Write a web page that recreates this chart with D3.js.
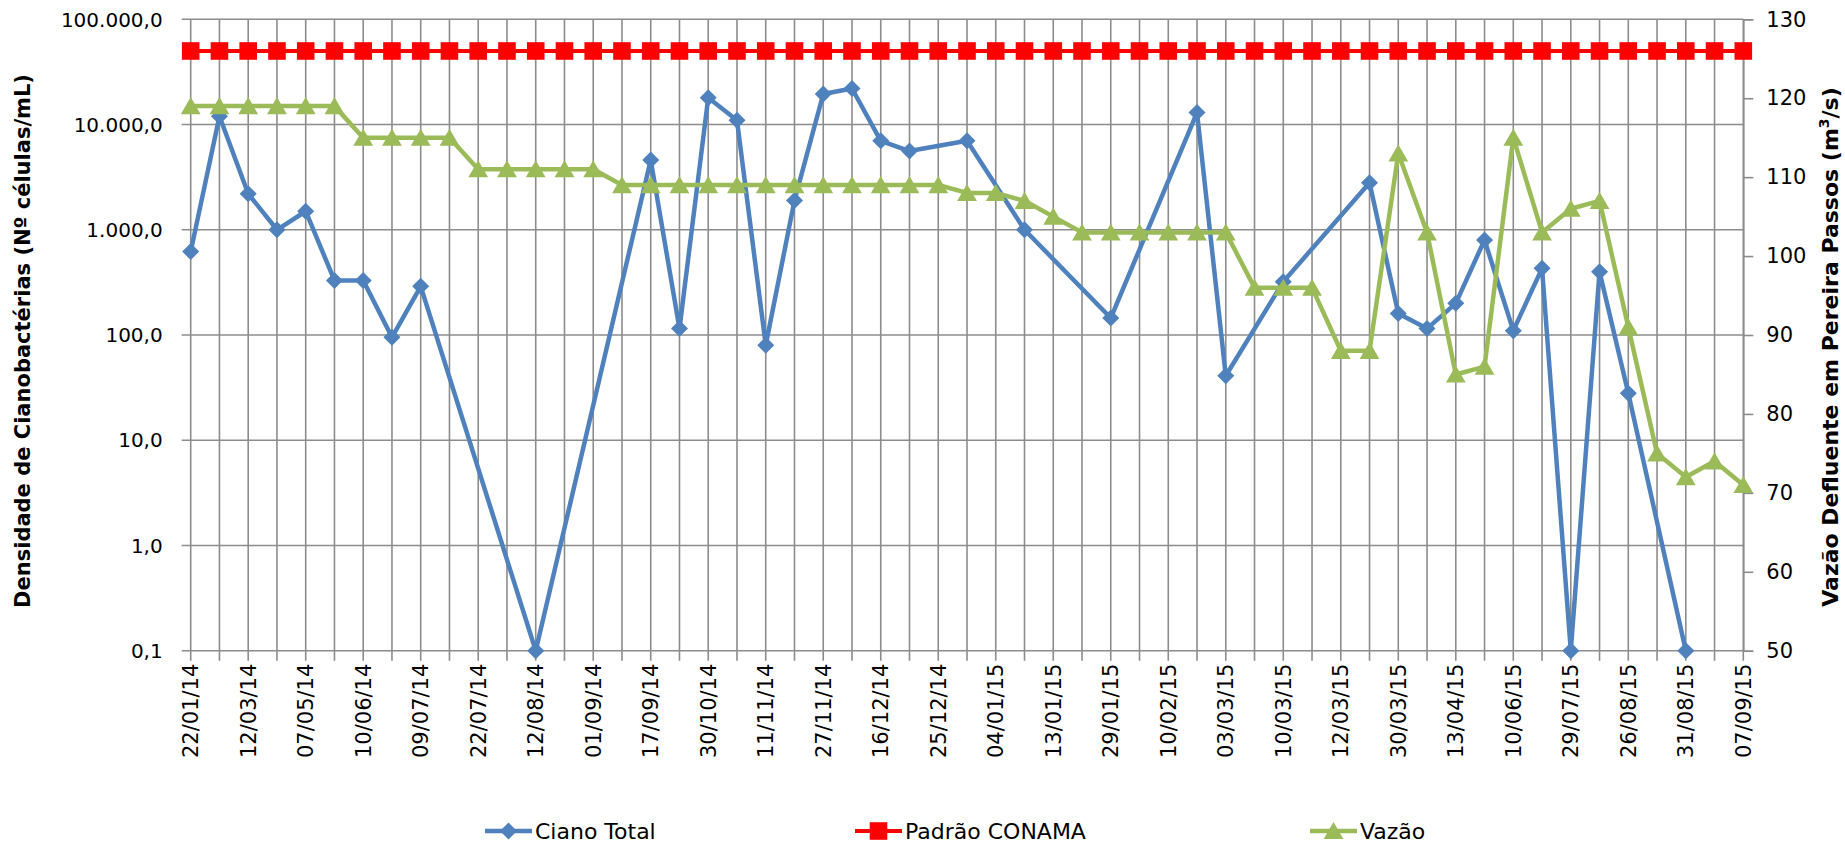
<!DOCTYPE html>
<html>
<head>
<meta charset="utf-8">
<script src="https://cdn.jsdelivr.net/npm/d3@7"></script>
<style>
  body { margin: 0; background: #fff; }
  text { font-family: "DejaVu Sans", sans-serif; fill: #000; }
</style>
</head>
<body>
<div id="chart"></div>
<script>
// Categorias (datas de coleta) - só as pares aparecem no eixo
const categories = [
  "22/01/14", "", "12/03/14", "", "07/05/14", "", "10/06/14", "", "09/07/14", "",
  "22/07/14", "", "12/08/14", "", "01/09/14", "", "17/09/14", "", "30/10/14", "",
  "11/11/14", "", "27/11/14", "", "16/12/14", "", "25/12/14", "", "04/01/15", "",
  "13/01/15", "", "29/01/15", "", "10/02/15", "", "03/03/15", "", "10/03/15", "",
  "12/03/15", "", "30/03/15", "", "13/04/15", "", "10/06/15", "", "29/07/15", "",
  "26/08/15", "", "31/08/15", "", "07/09/15"
];

// Ciano Total (células/mL) - null = sem amostra
const cianoTotal = [
  620, 12000, 2200, 1000, 1500, 330, 330, 95, 290, null,
  null, null, 0.1, null, null, null, 4600, 115, 18000, 11000,
  80, 1900, 19500, 22000, 7000, 5600, null, 7000, null, 1000,
  null, null, 145, null, null, 13000, 41, null, 320, null,
  null, 2800, 160, 115, 200, 800, 110, 430, 0.1, 400,
  28, null, 0.1, null, null
];

// Padrão CONAMA (células/mL)
const padraoConama = categories.map(() => 50000);

// Vazão defluente (m3/s)
const vazao = [
  119, 119, 119, 119, 119, 119, 115, 115, 115, 115,
  111, 111, 111, 111, 111, 109, 109, 109, 109, 109,
  109, 109, 109, 109, 109, 109, 109, 108, 108, 107,
  105, 103, 103, 103, 103, 103, 103, 96, 96, 96,
  88, 88, 113, 103, 85, 86, 115, 103, 106, 107,
  91, 75, 72, 74, 71
];

const leftTicks = [0.1, 1, 10, 100, 1000, 10000, 100000];
const rightTicks = [50, 60, 70, 80, 90, 100, 110, 120, 130];

const width = 1845;
const height = 843;
const plot = { left: 190.7, right: 1743.3, top: 19.3, bottom: 650.7 };

const svg = d3.select("#chart").append("svg")
  .attr("width", width)
  .attr("height", height);

const x = d3.scalePoint()
  .domain(d3.range(categories.length))
  .range([plot.left, plot.right]);

const yLeft = d3.scaleLog()
  .domain([0.1, 100000])
  .range([plot.bottom, plot.top]);

const yRight = d3.scaleLinear()
  .domain([50, 130])
  .range([plot.bottom, plot.top]);

const gridColor = "#8c8c8c";
const fmtLeft = (v) => {
  const s = d3.format(",.1f")(v);
  return s.replace(/,/g, "#").replace(".", ",").replace(/#/g, ".");
};

// Grade vertical (uma por categoria) + marcas abaixo do eixo
const grid = svg.append("g");
grid.selectAll("line.v")
  .data(d3.range(categories.length))
  .join("line")
  .attr("class", "v")
  .attr("x1", (d) => x(d))
  .attr("x2", (d) => x(d))
  .attr("y1", plot.top)
  .attr("y2", plot.bottom + 10)
  .attr("stroke", gridColor)
  .attr("stroke-width", 1.6);

// Grade horizontal (eixo logarítmico)
grid.selectAll("line.h")
  .data(leftTicks)
  .join("line")
  .attr("class", "h")
  .attr("x1", plot.left - 9)
  .attr("x2", plot.right)
  .attr("y1", (d) => yLeft(d))
  .attr("y2", (d) => yLeft(d))
  .attr("stroke", gridColor)
  .attr("stroke-width", 1.6);

// Eixo direito
const axisRight = d3.axisRight(yRight)
  .tickValues(rightTicks)
  .tickSize(10)
  .tickPadding(13)
  .tickFormat(d3.format("d"));

const gR = svg.append("g")
  .attr("transform", `translate(${plot.right},0)`)
  .call(axisRight);
gR.select(".domain").attr("stroke", gridColor).attr("stroke-width", 1.6);
gR.selectAll(".tick line").attr("stroke", gridColor).attr("stroke-width", 1.6);
gR.selectAll(".tick text")
  .attr("font-size", 21)
  .attr("font-family", "DejaVu Sans")
  .attr("fill", "#000");

// Rótulos eixo esquerdo
svg.append("g")
  .selectAll("text")
  .data(leftTicks)
  .join("text")
  .attr("x", plot.left - 28)
  .attr("y", (d) => yLeft(d))
  .attr("dy", "0.36em")
  .attr("text-anchor", "end")
  .attr("font-size", 20)
  .text(fmtLeft);

// Rótulos do eixo X (rotacionados)
svg.append("g")
  .selectAll("text")
  .data(d3.range(categories.length).filter((i) => categories[i] !== ""))
  .join("text")
  .attr("transform", (i) => `translate(${x(i)},${plot.bottom + 13}) rotate(-90)`)
  .attr("dy", "0.36em")
  .attr("text-anchor", "end")
  .attr("font-size", 21)
  .text((i) => categories[i]);

// Títulos dos eixos
svg.append("text")
  .attr("transform", `translate(30,${(plot.top + plot.bottom) / 2 + 6}) rotate(-90)`)
  .attr("text-anchor", "middle")
  .attr("font-size", 21)
  .attr("font-weight", "bold")
  .text("Densidade de Cianobactérias (Nº células/mL)");

const rt = svg.append("text")
  .attr("transform", `translate(1838,${(plot.top + plot.bottom) / 2 + 12}) rotate(-90)`)
  .attr("text-anchor", "middle")
  .attr("font-size", 22)
  .attr("font-weight", "bold");
rt.append("tspan").text("Vazão Defluente em Pereira Passos (m");
rt.append("tspan").attr("font-size", 14).attr("dy", -9).text("3");
rt.append("tspan").attr("dy", 9).text("/s)");

// Marcadores
const diamond = (s) => `M0,${-s}L${s},0L0,${s}L${-s},0Z`;
const square = (s) => `M${-s},${-s}H${s}V${s}H${-s}Z`;
const triangle = (s) => `M0,${-s}L${s * 1.1},${s * 0.9}H${-s * 1.1}Z`;

const series = [
  { name: "Ciano Total", values: cianoTotal, y: yLeft, color: "#4f81bd", marker: diamond, size: 8.5, lw: 4.5 },
  { name: "Padrão CONAMA", values: padraoConama, y: yLeft, color: "#ff0000", marker: square, size: 8.8, lw: 4 },
  { name: "Vazão", values: vazao, y: yRight, color: "#9bbb59", marker: triangle, size: 9, lw: 4.5 }
];

series.forEach((s) => {
  const pts = s.values
    .map((v, i) => ({ i, v }))
    .filter((d) => d.v !== null);

  const line = d3.line()
    .x((d) => x(d.i))
    .y((d) => s.y(d.v));

  const g = svg.append("g");
  g.append("path")
    .datum(pts)
    .attr("d", line)
    .attr("fill", "none")
    .attr("stroke", s.color)
    .attr("stroke-width", s.lw)
    .attr("stroke-linejoin", "round");

  g.selectAll("path.m")
    .data(pts)
    .join("path")
    .attr("class", "m")
    .attr("transform", (d) => `translate(${x(d.i)},${s.y(d.v)})`)
    .attr("d", s.marker(s.size))
    .attr("fill", s.color);
});

// Legenda
const legendX = [485, 855, 1310];
const legend = svg.append("g").attr("transform", "translate(0,831)");
series.forEach((s, k) => {
  const g = legend.append("g").attr("transform", `translate(${legendX[k]},0)`);
  g.append("line")
    .attr("x1", 0).attr("x2", 47)
    .attr("stroke", s.color)
    .attr("stroke-width", s.lw);
  g.append("path")
    .attr("transform", "translate(23.5,0)")
    .attr("d", s.marker(s.size))
    .attr("fill", s.color);
  g.append("text")
    .attr("x", 50)
    .attr("dy", "0.36em")
    .attr("font-size", 22)
    .text(s.name);
});
</script>
</body>
</html>
